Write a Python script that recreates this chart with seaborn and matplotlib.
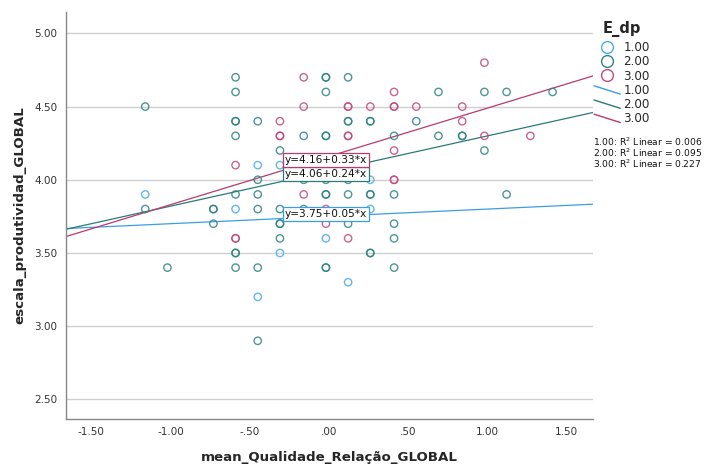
import matplotlib
matplotlib.use("Agg")
import matplotlib.pyplot as plt
from matplotlib.lines import Line2D
from matplotlib.legend_handler import HandlerBase
import seaborn as sns
import pandas as pd

# ---------------- data ----------------
groups = ["1.00", "2.00", "3.00"]

x_g1 = [-1.16, -0.45, -0.31, -0.59, -0.31, -0.45, 0.26, 0.26, -0.02, 0.12]
y_g1 = [3.90, 4.10, 4.10, 3.80, 3.50, 3.20, 4.00, 3.80, 3.60, 3.30]

x_g2 = [-0.59, -0.02, -0.02, 0.12,
        -0.59, -0.02, 0.69, 0.98, 1.12, 1.41,
        -1.16,
        -0.59, -0.59, -0.45, 0.12, 0.12, 0.26, 0.26, 0.55,
        -0.59, -0.16, -0.02, -0.02, 0.41, 0.69, 0.84, 0.84,
        -0.31, 0.98,
        -0.45, -0.16, -0.02, 0.12,
        -0.59, -0.45, -0.02, -0.02, 0.12, 0.26, 0.26, 0.41, 1.12,
        -1.16, -0.73, -0.73, -0.45, -0.31, -0.16,
        -0.73, -0.31, -0.31, 0.12, 0.41,
        -0.31, 0.41,
        -0.59, -0.59, 0.26, 0.26,
        -1.02, -0.59, -0.45, -0.02, -0.02, 0.41,
        -0.45]
y_g2 = [4.70, 4.70, 4.70, 4.70,
        4.60, 4.60, 4.60, 4.60, 4.60, 4.60,
        4.50,
        4.40, 4.40, 4.40, 4.40, 4.40, 4.40, 4.40, 4.40,
        4.30, 4.30, 4.30, 4.30, 4.30, 4.30, 4.30, 4.30,
        4.20, 4.20,
        4.00, 4.00, 4.00, 4.00,
        3.90, 3.90, 3.90, 3.90, 3.90, 3.90, 3.90, 3.90, 3.90,
        3.80, 3.80, 3.80, 3.80, 3.80, 3.80,
        3.70, 3.70, 3.70, 3.70, 3.70,
        3.60, 3.60,
        3.50, 3.50, 3.50, 3.50,
        3.40, 3.40, 3.40, 3.40, 3.40, 3.40,
        2.90]

x_g3 = [0.98, -0.16, 0.41,
        -0.16, 0.12, 0.12, 0.26, 0.41, 0.41, 0.55, 0.84,
        -0.31, 0.84,
        -0.31, -0.31, 0.12, 0.12, 0.98, 1.27,
        0.41, -0.59, 0.41, 0.41, -0.16, -0.02, -0.02,
        -0.59, -0.59, 0.12]
y_g3 = [4.80, 4.70, 4.60,
        4.50, 4.50, 4.50, 4.50, 4.50, 4.50, 4.50, 4.50,
        4.40, 4.40,
        4.30, 4.30, 4.30, 4.30, 4.30, 4.30,
        4.20, 4.10, 4.00, 4.00, 3.90, 3.80, 3.70,
        3.60, 3.60, 3.60]

# fitted lines as printed on the chart
intercepts = [3.75, 4.06, 4.16]
slopes = [0.05, 0.24, 0.33]
r2_values = ["0.006", "0.095", "0.227"]
fit_labels = ["y=3.75+0.05*x", "y=4.06+0.24*x", "y=4.16+0.33*x"]

x_ticks = [-1.5, -1.0, -0.5, 0.0, 0.5, 1.0, 1.5]
x_tick_labels = ["-1.50", "-1.00", "-.50", ".00", ".50", "1.00", "1.50"]
y_ticks = [2.5, 3.0, 3.5, 4.0, 4.5, 5.0]
y_tick_labels = ["2.50", "3.00", "3.50", "4.00", "4.50", "5.00"]

# ---------------- styling ----------------
sns.set_style("white")
plt.rcParams["font.family"] = ["DejaVu Sans"]

colors = ["#4aaaea", "#2f8383", "#bf4a7c"]
line_colors = ["#3a9ee6", "#2a7a7a", "#b83a6e"]

df = pd.DataFrame({
    "x": x_g1 + x_g2 + x_g3,
    "y": y_g1 + y_g2 + y_g3,
    "E_dp": [groups[0]] * len(x_g1) + [groups[1]] * len(x_g2) + [groups[2]] * len(x_g3),
})

fig = plt.figure(figsize=(7.14, 4.66), dpi=100)
ax = fig.add_axes([0.0924, 0.1009, 0.7381, 0.873])

xlim = (-1.66, 1.665)
ylim = (2.366, 5.145)

# grid lines
for yt in y_ticks:
    ax.axhline(yt, color="#cfcfcf", lw=1.0, zorder=0)

sns.scatterplot(data=df, x="x", y="y", hue="E_dp", hue_order=groups,
                palette=colors, s=28, linewidth=1.0, legend=False, ax=ax, zorder=3)
coll = ax.collections[0]
fc = coll.get_facecolors()
coll.set_edgecolors(fc)
coll.set_facecolors("none")
coll.set_alpha(0.85)

# regression lines
for i in range(3):
    xs = [xlim[0], xlim[1]]
    ys = [intercepts[i] + slopes[i] * v for v in xs]
    sns.lineplot(x=xs, y=ys, color=line_colors[i], lw=0.9, ax=ax, zorder=2)

# equation labels
label_pos = [(-0.277, 3.765), (-0.277, 4.041), (-0.277, 4.136)]
for i in range(3):
    ax.text(label_pos[i][0], label_pos[i][1], fit_labels[i], fontsize=7.6,
            va="center", ha="left", color="#111111", zorder=5,
            bbox=dict(boxstyle="square,pad=0.18", fc="white",
                      ec=line_colors[i], lw=0.9))

ax.set_xlim(*xlim)
ax.set_ylim(*ylim)
ax.set_xticks(x_ticks)
ax.set_xticklabels(x_tick_labels)
ax.set_yticks(y_ticks)
ax.set_yticklabels(y_tick_labels)
ax.tick_params(axis="both", length=0, labelsize=7.5, colors="#333333", pad=6)
for sp in ["top", "right"]:
    ax.spines[sp].set_visible(False)
for sp in ["left", "bottom"]:
    ax.spines[sp].set_color("#888888")
    ax.spines[sp].set_linewidth(1.0)

ax.set_xlabel("mean_Qualidade_Relação_GLOBAL", fontsize=9.6, fontweight="bold",
              labelpad=10)
ax.set_ylabel("escala_produtividad_GLOBAL", fontsize=9.6, fontweight="bold",
              labelpad=6)


class DiagHandler(HandlerBase):
    def create_artists(self, legend, orig_handle, xdescent, ydescent,
                       width, height, fontsize, trans):
        x0, y0 = -xdescent, -ydescent
        ln = Line2D([x0, x0 + width], [y0 + height * 0.95, y0 - height * 0.05],
                    color=orig_handle.get_color(),
                    lw=orig_handle.get_linewidth())
        ln.set_transform(trans)
        return [ln]


handles = []
hmap = {}
for c in colors:
    handles.append(Line2D([], [], marker="o", ls="", mfc="none", mec=c,
                          ms=8.5, mew=1.0))
for c in line_colors:
    h = Line2D([], [], color=c, lw=1.0)
    handles.append(h)
    hmap[h] = DiagHandler()
labels = groups + groups

leg = fig.legend(handles, labels, title="E_dp", loc="upper left",
                 bbox_to_anchor=(0.832, 0.955), frameon=False, fontsize=8.6,
                 title_fontproperties={"weight": "bold", "size": 10.5},
                 handlelength=2.2, handletextpad=0.25, labelspacing=0.1,
                 borderpad=0, borderaxespad=0, handler_map=hmap)
leg._legend_box.sep = 3

for i in range(3):
    fig.text(0.831, 1 - (142 + 11 * i) / 466,
             f"{groups[i]}: R$^2$ Linear = {r2_values[i]}",
             fontsize=6.6, va="center", ha="left", color="#111111")

fig.savefig("out.png", dpi=100)
